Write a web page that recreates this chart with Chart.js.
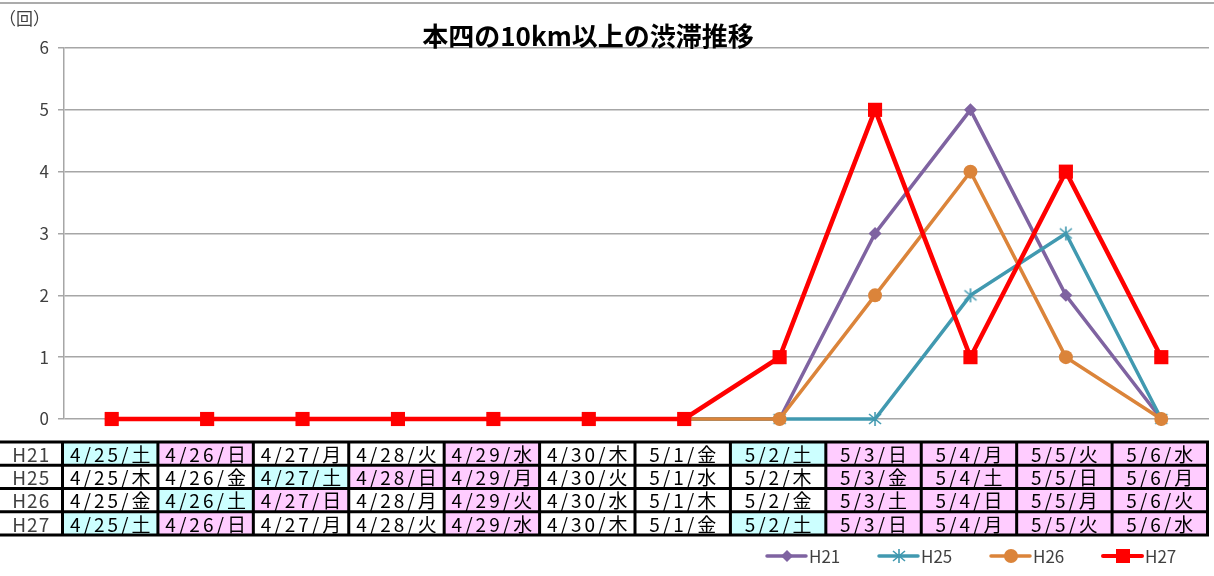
<!DOCTYPE html>
<html lang="ja">
<head>
<meta charset="utf-8">
<title>本四の10km以上の渋滞推移</title>
<script src="https://cdn.jsdelivr.net/npm/chart.js@4/dist/chart.umd.min.js"></script>
<style>
  html, body { margin: 0; padding: 0; background: #fff; }
  #wrap { width: 1214px; height: 576px; }
</style>
</head>
<body>
<div id="wrap"><canvas id="jamChart" width="1214" height="576"></canvas></div>
<script>
const FONT = '"Noto Sans CJK JP", "Noto Sans", sans-serif';

// data
const categories = ["4/25", "4/26", "4/27", "4/28", "4/29", "4/30", "5/1", "5/2", "5/3", "5/4", "5/5", "5/6"];
const h21 = [0, 0, 0, 0, 0, 0, 0, 0, 3, 5, 2, 0];
const h25 = [0, 0, 0, 0, 0, 0, 0, 0, 0, 2, 3, 0];
const h26 = [0, 0, 0, 0, 0, 0, 0, 0, 2, 4, 1, 0];
const h27 = [0, 0, 0, 0, 0, 0, 0, 1, 5, 1, 4, 1];
const yTicks = [0, 1, 2, 3, 4, 5, 6];

// date table under the plot
const rowLabels = ["H21", "H25", "H26", "H27"];
const rowDates = [
  ["4/25/土", "4/26/日", "4/27/月", "4/28/火", "4/29/水", "4/30/木", "5/1/金", "5/2/土", "5/3/日", "5/4/月", "5/5/火", "5/6/水"],
  ["4/25/木", "4/26/金", "4/27/土", "4/28/日", "4/29/月", "4/30/火", "5/1/水", "5/2/木", "5/3/金", "5/4/土", "5/5/日", "5/6/月"],
  ["4/25/金", "4/26/土", "4/27/日", "4/28/月", "4/29/火", "4/30/水", "5/1/木", "5/2/金", "5/3/土", "5/4/日", "5/5/月", "5/6/火"],
  ["4/25/土", "4/26/日", "4/27/月", "4/28/火", "4/29/水", "4/30/木", "5/1/金", "5/2/土", "5/3/日", "5/4/月", "5/5/火", "5/6/水"]
];
// s = saturday (cyan), h = sunday / holiday (pink)
const rowKinds = [
  ["s", "h", "", "", "h", "", "", "s", "h", "h", "h", "h"],
  ["", "", "s", "h", "h", "", "", "", "h", "h", "h", "h"],
  ["", "s", "h", "", "h", "", "", "", "h", "h", "h", "h"],
  ["s", "h", "", "", "h", "", "", "s", "h", "h", "h", "h"]
];

const COLORS = { h21: "#7F63A1", h25: "#4199B0", h26: "#DB843A", h27: "#FF0000" };

// excel style asterisk marker for H25
function starMarker(color) {
  const c = document.createElement("canvas");
  c.width = 16; c.height = 16;
  const g = c.getContext("2d");
  g.strokeStyle = color;
  g.lineWidth = 1.6;
  g.beginPath();
  g.moveTo(8, 1); g.lineTo(8, 15);
  g.moveTo(2, 3); g.lineTo(14, 13);
  g.moveTo(14, 3); g.lineTo(2, 13);
  g.stroke();
  return c;
}
const star = starMarker(COLORS.h25);

function drawMarker(ctx, style, x, y, color) {
  ctx.save();
  ctx.fillStyle = color;
  ctx.beginPath();
  if (style === "diamond") {
    ctx.moveTo(x, y - 6); ctx.lineTo(x + 6, y); ctx.lineTo(x, y + 6); ctx.lineTo(x - 6, y);
    ctx.closePath(); ctx.fill();
  } else if (style === "circle") {
    ctx.arc(x, y, 7, 0, Math.PI * 2); ctx.fill();
  } else if (style === "square") {
    ctx.fillRect(x - 7, y - 7, 14, 14);
  } else {
    ctx.drawImage(star, x - 8, y - 8);
  }
  ctx.restore();
}

const extras = {
  id: "extras",
  afterDraw(chart) {
    const ctx = chart.ctx;
    const xs = chart.scales.x;
    ctx.save();

    // outer top border
    ctx.strokeStyle = "#ABABAB";
    ctx.lineWidth = 2;
    ctx.beginPath(); ctx.moveTo(0, 3); ctx.lineTo(1214, 3); ctx.stroke();

    // title + unit
    ctx.fillStyle = "#000";
    ctx.font = "bold 26px " + FONT;
    ctx.textAlign = "center";
    ctx.textBaseline = "middle";
    ctx.fillText("本四の10km以上の渋滞推移", 588, 36);
    ctx.fillStyle = "#404040";
    ctx.font = "17px " + FONT;
    ctx.textAlign = "left";
    ctx.fillText("（回）", -1, 19);

    // table
    const step = xs.getPixelForValue(1) - xs.getPixelForValue(0);
    const edge = i => xs.getPixelForValue(i) - step / 2 - 1.5;
    const top = 442, rowH = 23.25;
    rowDates.forEach((row, r) => {
      const y0 = top + r * rowH;
      ctx.fillStyle = "#404040";
      ctx.font = "19px " + FONT;
      ctx.textAlign = "center";
      ctx.letterSpacing = "1px";
      ctx.fillText(rowLabels[r], edge(0) / 2, y0 + rowH / 2 + 1);
      row.forEach((txt, i) => {
        const x0 = edge(i), x1 = edge(i + 1);
        const kind = rowKinds[r][i];
        if (kind) {
          ctx.fillStyle = kind === "s" ? "#CCFFFF" : "#FFCCFF";
          ctx.fillRect(x0, y0, x1 - x0, rowH);
        }
        ctx.fillStyle = "#000";
        ctx.font = "19px " + FONT;
        ctx.letterSpacing = "3px";
        ctx.fillText(txt, (x0 + x1) / 2 + 1.5, y0 + rowH / 2 + 1);
      });
    });
    ctx.letterSpacing = "0px";
    ctx.strokeStyle = "#000";
    ctx.lineWidth = 3;
    ctx.beginPath();
    for (let r = 0; r <= rowDates.length; r++) {
      const y = top + r * rowH;
      ctx.moveTo(0, y); ctx.lineTo(edge(categories.length) + 1.5, y);
    }
    for (let i = 0; i <= categories.length; i++) {
      ctx.moveTo(edge(i), top - 1.5); ctx.lineTo(edge(i), top + rowDates.length * rowH + 1.5);
    }
    ctx.stroke();

    // legend
    const items = [
      ["H21", COLORS.h21, "diamond", 3.5],
      ["H25", COLORS.h25, "star", 3.5],
      ["H26", COLORS.h26, "circle", 3.5],
      ["H27", COLORS.h27, "square", 4]
    ];
    const ly = 556;
    items.forEach(([name, color, style, w], k) => {
      const lx = 767 + k * 112;
      ctx.strokeStyle = color;
      ctx.lineWidth = w;
      ctx.lineCap = "round";
      ctx.beginPath(); ctx.moveTo(lx, ly); ctx.lineTo(lx + 39, ly); ctx.stroke();
      drawMarker(ctx, style, lx + 20, ly, color);
      ctx.fillStyle = "#404040";
      ctx.font = "17px " + FONT;
      ctx.textAlign = "left";
      ctx.fillText(name, lx + 42, ly + 1);
    });
    ctx.restore();
  }
};

new Chart(document.getElementById("jamChart"), {
  type: "line",
  data: {
    labels: categories,
    datasets: [
      { label: "H21", data: h21, order: 4, borderColor: COLORS.h21, backgroundColor: COLORS.h21,
        borderWidth: 3.5, pointStyle: "rectRot", pointRadius: 6.5, pointBorderWidth: 0 },
      { label: "H25", data: h25, order: 3, borderColor: COLORS.h25, backgroundColor: COLORS.h25,
        borderWidth: 3.5, pointStyle: star, pointRadius: 8 },
      { label: "H26", data: h26, order: 2, borderColor: COLORS.h26, backgroundColor: COLORS.h26,
        borderWidth: 3.5, pointStyle: "circle", pointRadius: 7, pointBorderWidth: 0 },
      { label: "H27", data: h27, order: 1, borderColor: COLORS.h27, backgroundColor: COLORS.h27,
        borderWidth: 4.5, pointStyle: "rect", pointRadius: 10, pointBorderWidth: 0 }
    ]
  },
  options: {
    responsive: false,
    animation: false,
    events: [],
    layout: { autoPadding: false, padding: { top: 48, bottom: 157, left: 0, right: 5 } },
    elements: { line: { tension: 0 } },
    datasets: { line: { clip: false } },
    plugins: { legend: { display: false }, title: { display: false }, tooltip: { enabled: false } },
    scales: {
      x: {
        type: "category",
        offset: true,
        ticks: { display: false },
        grid: { display: false, drawTicks: false },
        border: { display: false },
        afterFit: s => { s.height = 0; s.paddingLeft = 0; s.paddingRight = 0; }
      },
      y: {
        min: 0,
        max: 6,
        afterBuildTicks: s => { s.ticks = yTicks.map(v => ({ value: v })); },
        ticks: { padding: 9, color: "#404040", font: { size: 17, family: FONT } },
        grid: { color: "#A6A6A6", lineWidth: 1.5, tickLength: 6 },
        border: { color: "#A6A6A6", width: 1.5 },
        afterFit: s => { s.width = 64; }
      }
    }
  },
  plugins: [extras]
});
</script>
</body>
</html>
